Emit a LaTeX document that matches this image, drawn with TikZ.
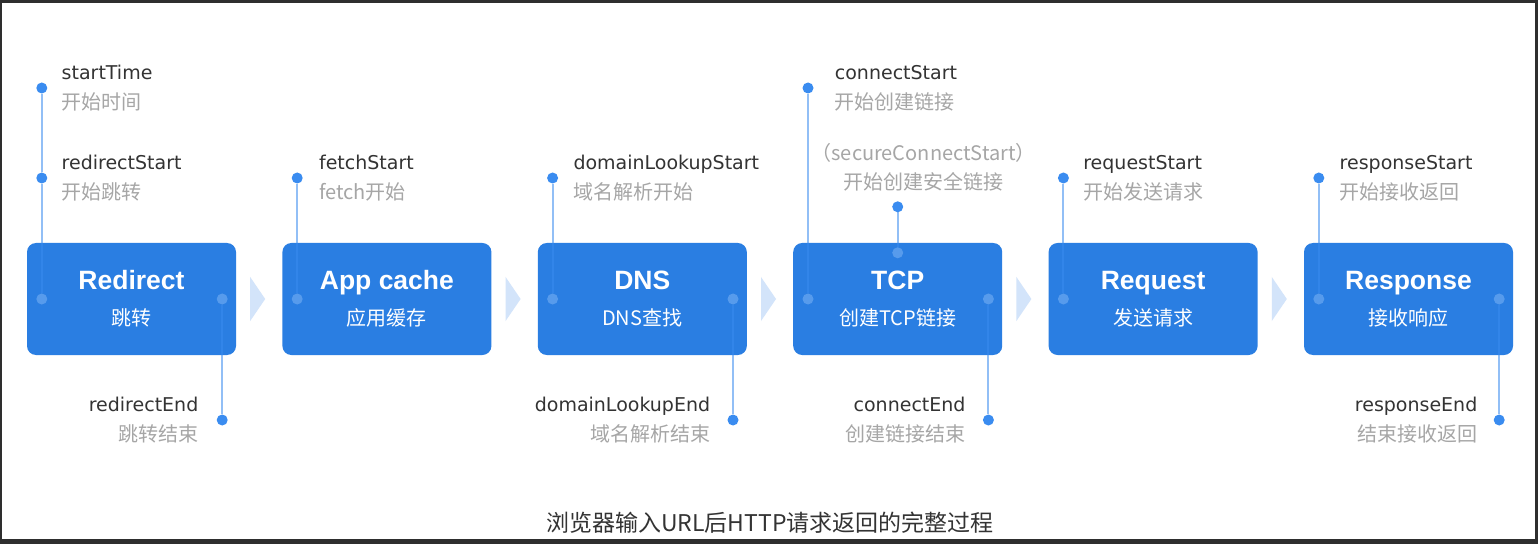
\documentclass[tikz,border=0pt]{standalone}
\usepackage{fontspec}
\usepackage{xcolor}
\usepackage{tikz}
\usetikzlibrary{positioning,calc}
\setmainfont{DejaVu Sans}
\newfontfamily\cjk{Noto Sans CJK SC}
\newfontfamily\lsans{Liberation Sans}
\definecolor{stageBlue}{HTML}{2A7EE2}
\definecolor{dotBlue}{HTML}{3A8CF0}
\definecolor{chevBlue}{HTML}{D3E4FA}
\definecolor{evInk}{HTML}{333333}
\definecolor{evGray}{HTML}{A6A6A6}
\definecolor{frameDark}{HTML}{2E2E2E}
\newcommand{\stitle}{\lsans\bfseries\fontsize{26.5}{36}\selectfont}
\newcommand{\ssub}{\cjk\fontsize{20}{36}\selectfont}
\newcommand{\evlabel}[2]{{\color{evInk}#1}\\{\cjk\color{evGray}\fontsize{20}{30}\selectfont #2}}

\begin{document}
\begin{tikzpicture}[
  x=1pt,y=1pt,
  font={\fontsize{19}{30}\selectfont},
  stagebox/.style={rectangle,rounded corners=9pt,fill=stageBlue,minimum width=209pt,minimum height=112pt,inner sep=0pt,align=center,text=white,font={\fontsize{20}{36}\selectfont}},
  evdot/.style={circle,fill=dotBlue,inner sep=0pt,minimum size=11pt},
  idot/.style={evdot,fill=dotBlue!70!white,fill opacity=0.6},
  stem/.style={draw=dotBlue,draw opacity=0.55,line width=2pt},
  evtop/.style={align=left,inner sep=0pt},
  evbot/.style={align=right,inner sep=0pt},
  chev/.style={fill=chevBlue}
]
% frame
\fill[frameDark] (0,0) rectangle (1538,544);
\fill[white] (2,5) rectangle (1535,541);
\useasboundingbox (0,0) rectangle (1538,544);

% stage boxes
\node[stagebox] (redir) at (131.5,245) {{\stitle\raisebox{-2pt}{Redirect}}\\{\ssub\raisebox{-2pt}{跳转}}};
\node[stagebox,right=46pt of redir] (appc) {{\stitle\raisebox{-2pt}{App cache}}\\{\ssub\raisebox{-2pt}{应用缓存}}};
\node[stagebox,right=46pt of appc]  (dns)  {{\stitle\raisebox{-2pt}{DNS}}\\{\ssub\raisebox{-2pt}{DNS查找}}};
\node[stagebox,right=46pt of dns]   (tcp)  {{\stitle\raisebox{-2pt}{TCP}}\\{\ssub\raisebox{-2pt}{创建TCP链接}}};
\node[stagebox,right=46pt of tcp]   (req)  {{\stitle\raisebox{-2pt}{Request}}\\{\ssub\raisebox{-2pt}{发送请求}}};
\node[stagebox,right=46pt of req]   (resp) {{\stitle\raisebox{-2pt}{Response}}\\{\ssub\raisebox{-2pt}{接收响应}}};

% chevrons between stages
\foreach \a/\b in {redir/appc,appc/dns,dns/tcp,tcp/req,req/resp}
  \fill[chev] ($(\a.east)!0.5!(\b.west)+(-9,22)$) -- ++(15,-22) -- ++(-15,-22) -- cycle;

% dots inside the boxes
\node[idot] (redir-in)  at ($(redir.west)+(15,0)$) {};
\node[idot] (redir-out) at ($(redir.east)+(-14,0)$) {};
\node[idot] (appc-in)   at ($(appc.west)+(15,0)$) {};
\node[idot] (dns-in)    at ($(dns.west)+(15,0)$) {};
\node[idot] (dns-out)   at ($(dns.east)+(-14,0)$) {};
\node[idot] (tcp-in)    at ($(tcp.west)+(15,0)$) {};
\node[idot] (tcp-sec)   at ($(tcp.north)+(0,-10)$) {};
\node[idot] (tcp-out)   at ($(tcp.east)+(-14,0)$) {};
\node[idot] (req-in)    at ($(req.west)+(15,0)$) {};
\node[idot] (resp-in)   at ($(resp.west)+(15,0)$) {};
\node[idot] (resp-out)  at ($(resp.east)+(-14,0)$) {};

% event dots
\node[evdot] (st)   at ($(redir-in)+(0,211)$) {};
\node[evdot] (rs)   at ($(redir-in)+(0,121)$) {};
\node[evdot] (re)   at ($(redir-out)+(0,-121)$) {};
\node[evdot] (fs)   at ($(appc-in)+(0,121)$) {};
\node[evdot] (dls)  at ($(dns-in)+(0,121)$) {};
\node[evdot] (dle)  at ($(dns-out)+(0,-121)$) {};
\node[evdot] (cs)   at ($(tcp-in)+(0,211)$) {};
\node[evdot] (scs)  at ($(tcp.north)+(0,36)$) {};
\node[evdot] (ce)   at ($(tcp-out)+(0,-121)$) {};
\node[evdot] (rqs)  at ($(req-in)+(0,121)$) {};
\node[evdot] (rps)  at ($(resp-in)+(0,121)$) {};
\node[evdot] (rpe)  at ($(resp-out)+(0,-121)$) {};

% stems
\draw[stem] (st)  -- (rs);
\draw[stem] (rs)  -- (redir-in);
\draw[stem] (redir-out) -- (re);
\draw[stem] (fs)  -- (appc-in);
\draw[stem] (dls) -- (dns-in);
\draw[stem] (dns-out) -- (dle);
\draw[stem] (cs)  -- (tcp-in);
\draw[stem] (scs) -- (tcp-sec);
\draw[stem] (tcp-out) -- (ce);
\draw[stem] (rqs) -- (req-in);
\draw[stem] (rps) -- (resp-in);
\draw[stem] (resp-out) -- (rpe);

% event labels
\node[evtop,right=14pt of st]  (st-l)  {\evlabel{startTime}{开始时间}};
\node[evtop,right=14pt of rs]  (rs-l)  {\evlabel{redirectStart}{开始跳转}};
\node[evbot,left=18pt of re]   (re-l)  {\evlabel{redirectEnd}{跳转结束}};
\node[evtop,right=16pt of fs]  (fs-l)  {\evlabel{fetchStart}{fetch开始}};
\node[evtop,right=15pt of dls] (dls-l) {\evlabel{domainLookupStart}{域名解析开始}};
\node[evbot,left=17pt of dle]  (dle-l) {\evlabel{domainLookupEnd}{域名解析结束}};
\node[evtop,right=21pt of cs]  (cs-l)  {\evlabel{connectStart}{开始创建链接}};
\node[evbot,left=17pt of ce]   (ce-l)  {\evlabel{connectEnd}{创建链接结束}};
\node[evtop,right=14pt of rqs] (rqs-l) {\evlabel{requestStart}{开始发送请求}};
\node[evtop,right=15pt of rps] (rps-l) {\evlabel{responseStart}{开始接收返回}};
\node[evbot,left=16pt of rpe]  (rpe-l) {\evlabel{responseEnd}{结束接收返回}};
\node[align=center,inner sep=0pt,above=10pt of scs,xshift=26pt,text=evGray,
      font={\cjk\fontsize{20}{29}\selectfont}] (scs-l) {（secureConnectStart）\\开始创建安全链接};

% caption
\node[text=evInk,font={\cjk\fontsize{23}{28}\selectfont}] (caption) at (770,21) {浏览器输入URL后HTTP请求返回的完整过程};
\end{tikzpicture}
\end{document}
